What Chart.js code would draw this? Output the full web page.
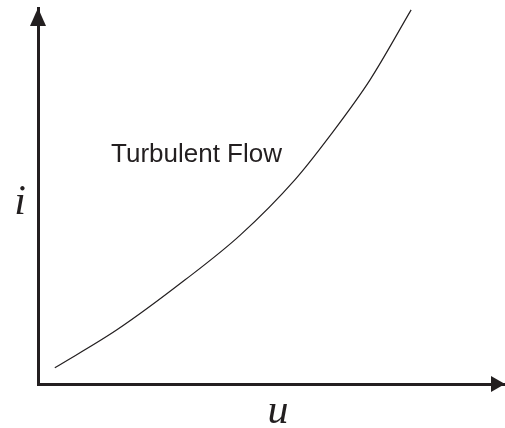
<!DOCTYPE html>
<html>
<head>
<meta charset="utf-8">
<script src="https://cdn.jsdelivr.net/npm/chart.js@4.4.1/dist/chart.umd.min.js"></script>
<style>
  html, body { margin: 0; padding: 0; background: #fff; }
  #wrap { width: 505px; height: 428px; position: relative; }
</style>
</head>
<body>
<div id="wrap"><canvas id="flowChart"></canvas></div>
<script>
// curve (u on x, i on y, both 0..100)
const uValues = [3.6, 16.9, 31.5, 43.3, 55.0, 62.5, 71.1, 79.9];
const iValues = [4.3, 14.4, 27.7, 39.6, 54.3, 66.0, 80.9, 99.5];
const curveLabel = 'Turbulent Flow';
const xAxisLabel = 'u';
const yAxisLabel = 'i';

const ink = '#231f20';

const points = uValues.map((u, k) => ({ x: u, y: iValues[k] }));

// arrowheads + free text labels
const sketchPlugin = {
  id: 'sketch',
  afterDraw(chart) {
    const { ctx, chartArea: a } = chart;
    ctx.save();
    ctx.fillStyle = ink;

    // up arrow on i axis
    ctx.beginPath();
    ctx.moveTo(a.left, a.top);
    ctx.lineTo(a.left - 8, a.top + 18);
    ctx.lineTo(a.left + 8, a.top + 18);
    ctx.closePath();
    ctx.fill();

    // right arrow on u axis
    ctx.beginPath();
    ctx.moveTo(a.right, a.bottom);
    ctx.lineTo(a.right - 14, a.bottom - 8);
    ctx.lineTo(a.right - 14, a.bottom + 8);
    ctx.closePath();
    ctx.fill();

    ctx.textBaseline = 'alphabetic';
    ctx.font = '26px "Liberation Sans", Arial, sans-serif';
    ctx.textAlign = 'left';
    ctx.fillText(curveLabel, a.left + 73, 162);

    ctx.font = 'italic 42px "Liberation Serif", "Times New Roman", serif';
    ctx.textAlign = 'center';
    ctx.fillText(yAxisLabel, 20, 214);
    ctx.fillText(xAxisLabel, 278, 423);
    ctx.restore();
  }
};

new Chart(document.getElementById('flowChart'), {
  type: 'line',
  data: {
    datasets: [{
      data: points,
      borderColor: ink,
      borderWidth: 1.2,
      pointRadius: 0,
      fill: false,
      cubicInterpolationMode: 'monotone'
    }]
  },
  options: {
    responsive: true,
    maintainAspectRatio: false,
    animation: false,
    layout: { padding: { left: 38, right: 0, top: 8, bottom: 44 } },
    plugins: { legend: { display: false }, tooltip: { enabled: false } },
    scales: {
      x: {
        type: 'linear', min: 0, max: 100,
        ticks: { display: false },
        grid: { display: false, drawTicks: false },
        border: { display: true, color: ink, width: 3 },
        afterFit: s => { s.height = 0; }
      },
      y: {
        type: 'linear', min: 0, max: 100,
        ticks: { display: false },
        grid: { display: false, drawTicks: false },
        border: { display: true, color: ink, width: 3 },
        afterFit: s => { s.width = 0; }
      }
    }
  },
  plugins: [sketchPlugin]
});
</script>
</body>
</html>
